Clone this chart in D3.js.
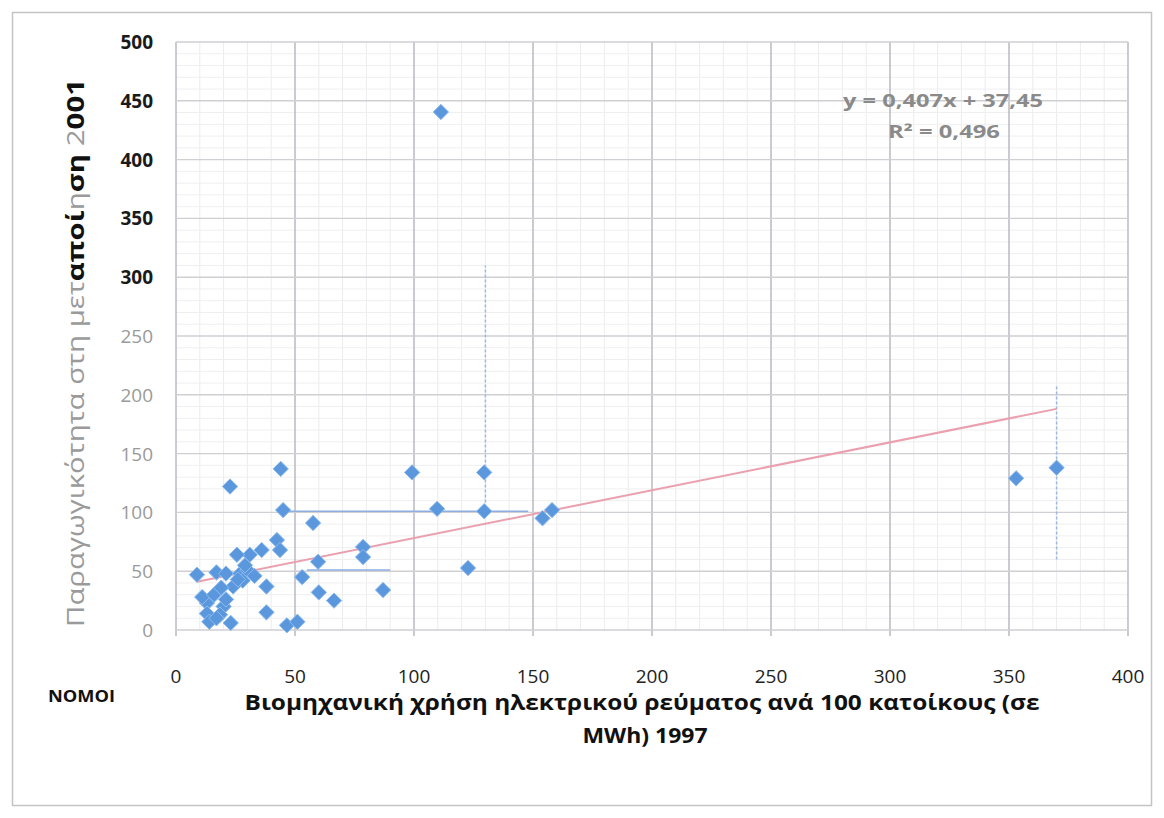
<!DOCTYPE html>
<html><head><meta charset="utf-8">
<script src="https://cdn.jsdelivr.net/npm/d3@7"></script>
<style>body{margin:0;background:#fff}svg{display:block}</style>
</head><body>
<script>
// ---- data ----
const xValues = [111.3,99.2,109.7,129.5,129.5,122.7,154,158,353,370,
  78.6,78.6,87,66.4,44,22.7,45,57.6,42.4,43.7,36,31,25.6,59.7,8.8,17,21,27,30,28,24,38,53,60,38,13,20,13,14,23,46.6,51,18.5,11,
  16,19,26,33,29,17,21];
const yValues = [440.5,134,103,134,101,52.7,95,102,129,138,
  70.6,62,34,25,137,122,102,91,76.5,68,68,64,64,58,47,49,48,48,51,42,37,37,45,32,15,23,20,14,7,6,4,7,13,28,
  30,36,43,46,55,10,26];
const xTicks = [0,50,100,150,200,250,300,350,400];
const yTicks = [0,50,100,150,200,250,300,350,400,450,500];
const slope = 0.407, intercept = 37.45;
const equationText = "y = 0,407x + 37,45";
const r2Text = "R² = 0,496";
// error-bar like thin lines seen in the picture (data units)
const vBars = [{x:130, y1:100, y2:310}, {x:370, y1:60, y2:208}];
const hBars = [{y:101, x1:47, x2:148}, {y:51, x1:55, x2:90}];

const W = 1164, H = 818;
const svg = d3.select("body").append("svg").attr("width", W).attr("height", H);
const font = "'Open Sans', 'DejaVu Sans', sans-serif";

svg.append("rect").attr("x",12.5).attr("y",12.5).attr("width",1139).attr("height",793)
  .attr("fill","#fff").attr("stroke","#c4c4c4").attr("stroke-width",1.5);

const x = d3.scaleLinear().domain([0,400]).range([176,1128]);
const y = d3.scaleLinear().domain([0,500]).range([630,42]);

const g = svg.append("g");
// minor grid
const minorX = d3.range(0,401,10).filter(v => v % 50 !== 0);
const minorY = d3.range(0,501,10).filter(v => v % 50 !== 0);
g.selectAll(".mx").data(minorX).join("line")
  .attr("x1", d=>x(d)).attr("x2", d=>x(d)).attr("y1", y(500)).attr("y2", y(0))
  .attr("stroke","#ececec").attr("stroke-width",1);
g.selectAll(".my").data(minorY).join("line")
  .attr("y1", d=>y(d)).attr("y2", d=>y(d)).attr("x1", x(0)).attr("x2", x(400))
  .attr("stroke","#efefef").attr("stroke-width",1);
// major grid
g.selectAll(".gx").data(xTicks).join("line")
  .attr("x1", d=>x(d)).attr("x2", d=>x(d)).attr("y1", y(500)).attr("y2", y(0)+6)
  .attr("stroke","#b4b4bc").attr("stroke-width",1.4);
g.selectAll(".gy").data(yTicks).join("line")
  .attr("y1", d=>y(d)).attr("y2", d=>y(d)).attr("x1", x(0)).attr("x2", x(400))
  .attr("stroke","#cfcfd4").attr("stroke-width",1.4);

// error-bar like lines
g.selectAll(".vb").data(vBars).join("line")
  .attr("x1", d=>x(d.x)).attr("x2", d=>x(d.x)).attr("y1", d=>y(d.y1)).attr("y2", d=>y(d.y2))
  .attr("stroke","#9db8df").attr("stroke-width",1.5).attr("stroke-dasharray","3,2");
g.selectAll(".hb").data(hBars).join("line")
  .attr("y1", d=>y(d.y)).attr("y2", d=>y(d.y)).attr("x1", d=>x(d.x1)).attr("x2", d=>x(d.x2))
  .attr("stroke","#8eaee0").attr("stroke-width",1.5);

// trend line
const xmin = d3.min(xValues), xmax = d3.max(xValues);
g.append("line").attr("x1", x(xmin)).attr("y1", y(slope*xmin+intercept))
  .attr("x2", x(xmax)).attr("y2", y(slope*xmax+intercept))
  .attr("stroke","#eaa0ae").attr("stroke-width",2);

// points
const pts = xValues.map((v,i)=>({x:v, y:yValues[i]}));
g.selectAll(".pt").data(pts).join("path")
  .attr("d", d3.symbol(d3.symbolDiamond2, 150))
  .attr("transform", d=>`translate(${x(d.x)},${y(d.y)}) rotate(0)`)
  .attr("fill","#5b97dc").attr("stroke","#8dbbef").attr("stroke-width",1);

// axis labels
svg.selectAll(".xt").data(xTicks).join("text")
  .attr("x", d=>x(d)).attr("y", 683).attr("text-anchor","middle")
  .attr("font-family",font).attr("font-size",19).attr("fill","#222").text(d=>d);
svg.selectAll(".yt").data(yTicks).join("text")
  .attr("x", 153).attr("y", d=>y(d)+7).attr("text-anchor","end")
  .attr("font-family",font).attr("font-size",19)
  .attr("font-weight", d=> d>=300 ? "bold" : "normal")
  .attr("fill", d=> d>=300 ? "#1a1a1a" : "#9a9a9a").text(d=>d);

// equation
svg.append("text").attr("x",943).attr("y",107).attr("text-anchor","middle")
  .attr("font-family",font).attr("font-size",17).attr("fill","#8a8a8a").attr("font-weight","bold")
  .attr("textLength",200).attr("lengthAdjust","spacingAndGlyphs").text(equationText);
svg.append("text").attr("x",944).attr("y",138).attr("text-anchor","middle")
  .attr("font-family",font).attr("font-size",17).attr("fill","#8a8a8a").attr("font-weight","bold")
  .attr("textLength",112).attr("lengthAdjust","spacingAndGlyphs").text(r2Text);

// x title
svg.append("text").attr("x",642).attr("y",710).attr("text-anchor","middle")
  .attr("font-family",font).attr("font-size",21).attr("font-weight","bold").attr("fill","#111")
  .attr("textLength",795).attr("lengthAdjust","spacingAndGlyphs")
  .text("Βιομηχανική χρήση ηλεκτρικού ρεύματος ανά 100 κατοίκους (σε");
svg.append("text").attr("x",645).attr("y",743).attr("text-anchor","middle")
  .attr("font-family",font).attr("font-size",21).attr("font-weight","bold").attr("fill","#111")
  .attr("textLength",125).attr("lengthAdjust","spacingAndGlyphs").text("MWh) 1997");
svg.append("text").attr("x",48).attr("y",702)
  .attr("font-family",font).attr("font-size",16).attr("font-weight","bold").attr("fill","#111")
  .attr("textLength",67).attr("lengthAdjust","spacingAndGlyphs").text("ΝΟΜΟΙ");

// y title (rotated), mixed styles as in the scan
const yt = svg.append("text").attr("transform","translate(84,353) rotate(-90)")
  .attr("text-anchor","middle").attr("font-family",font).attr("font-size",23)
  .attr("textLength",548).attr("lengthAdjust","spacingAndGlyphs");
const parts = [["Παραγωγικότητα στη μετ", false],["αποί", true],["η",false],["ση ",true],["2",false],["001",true]];
parts.forEach(([t,b]) => yt.append("tspan").attr("font-weight", b?"bold":"normal")
  .attr("fill", b?"#111":"#9a9a9a").text(t));
</script>
</body></html>
